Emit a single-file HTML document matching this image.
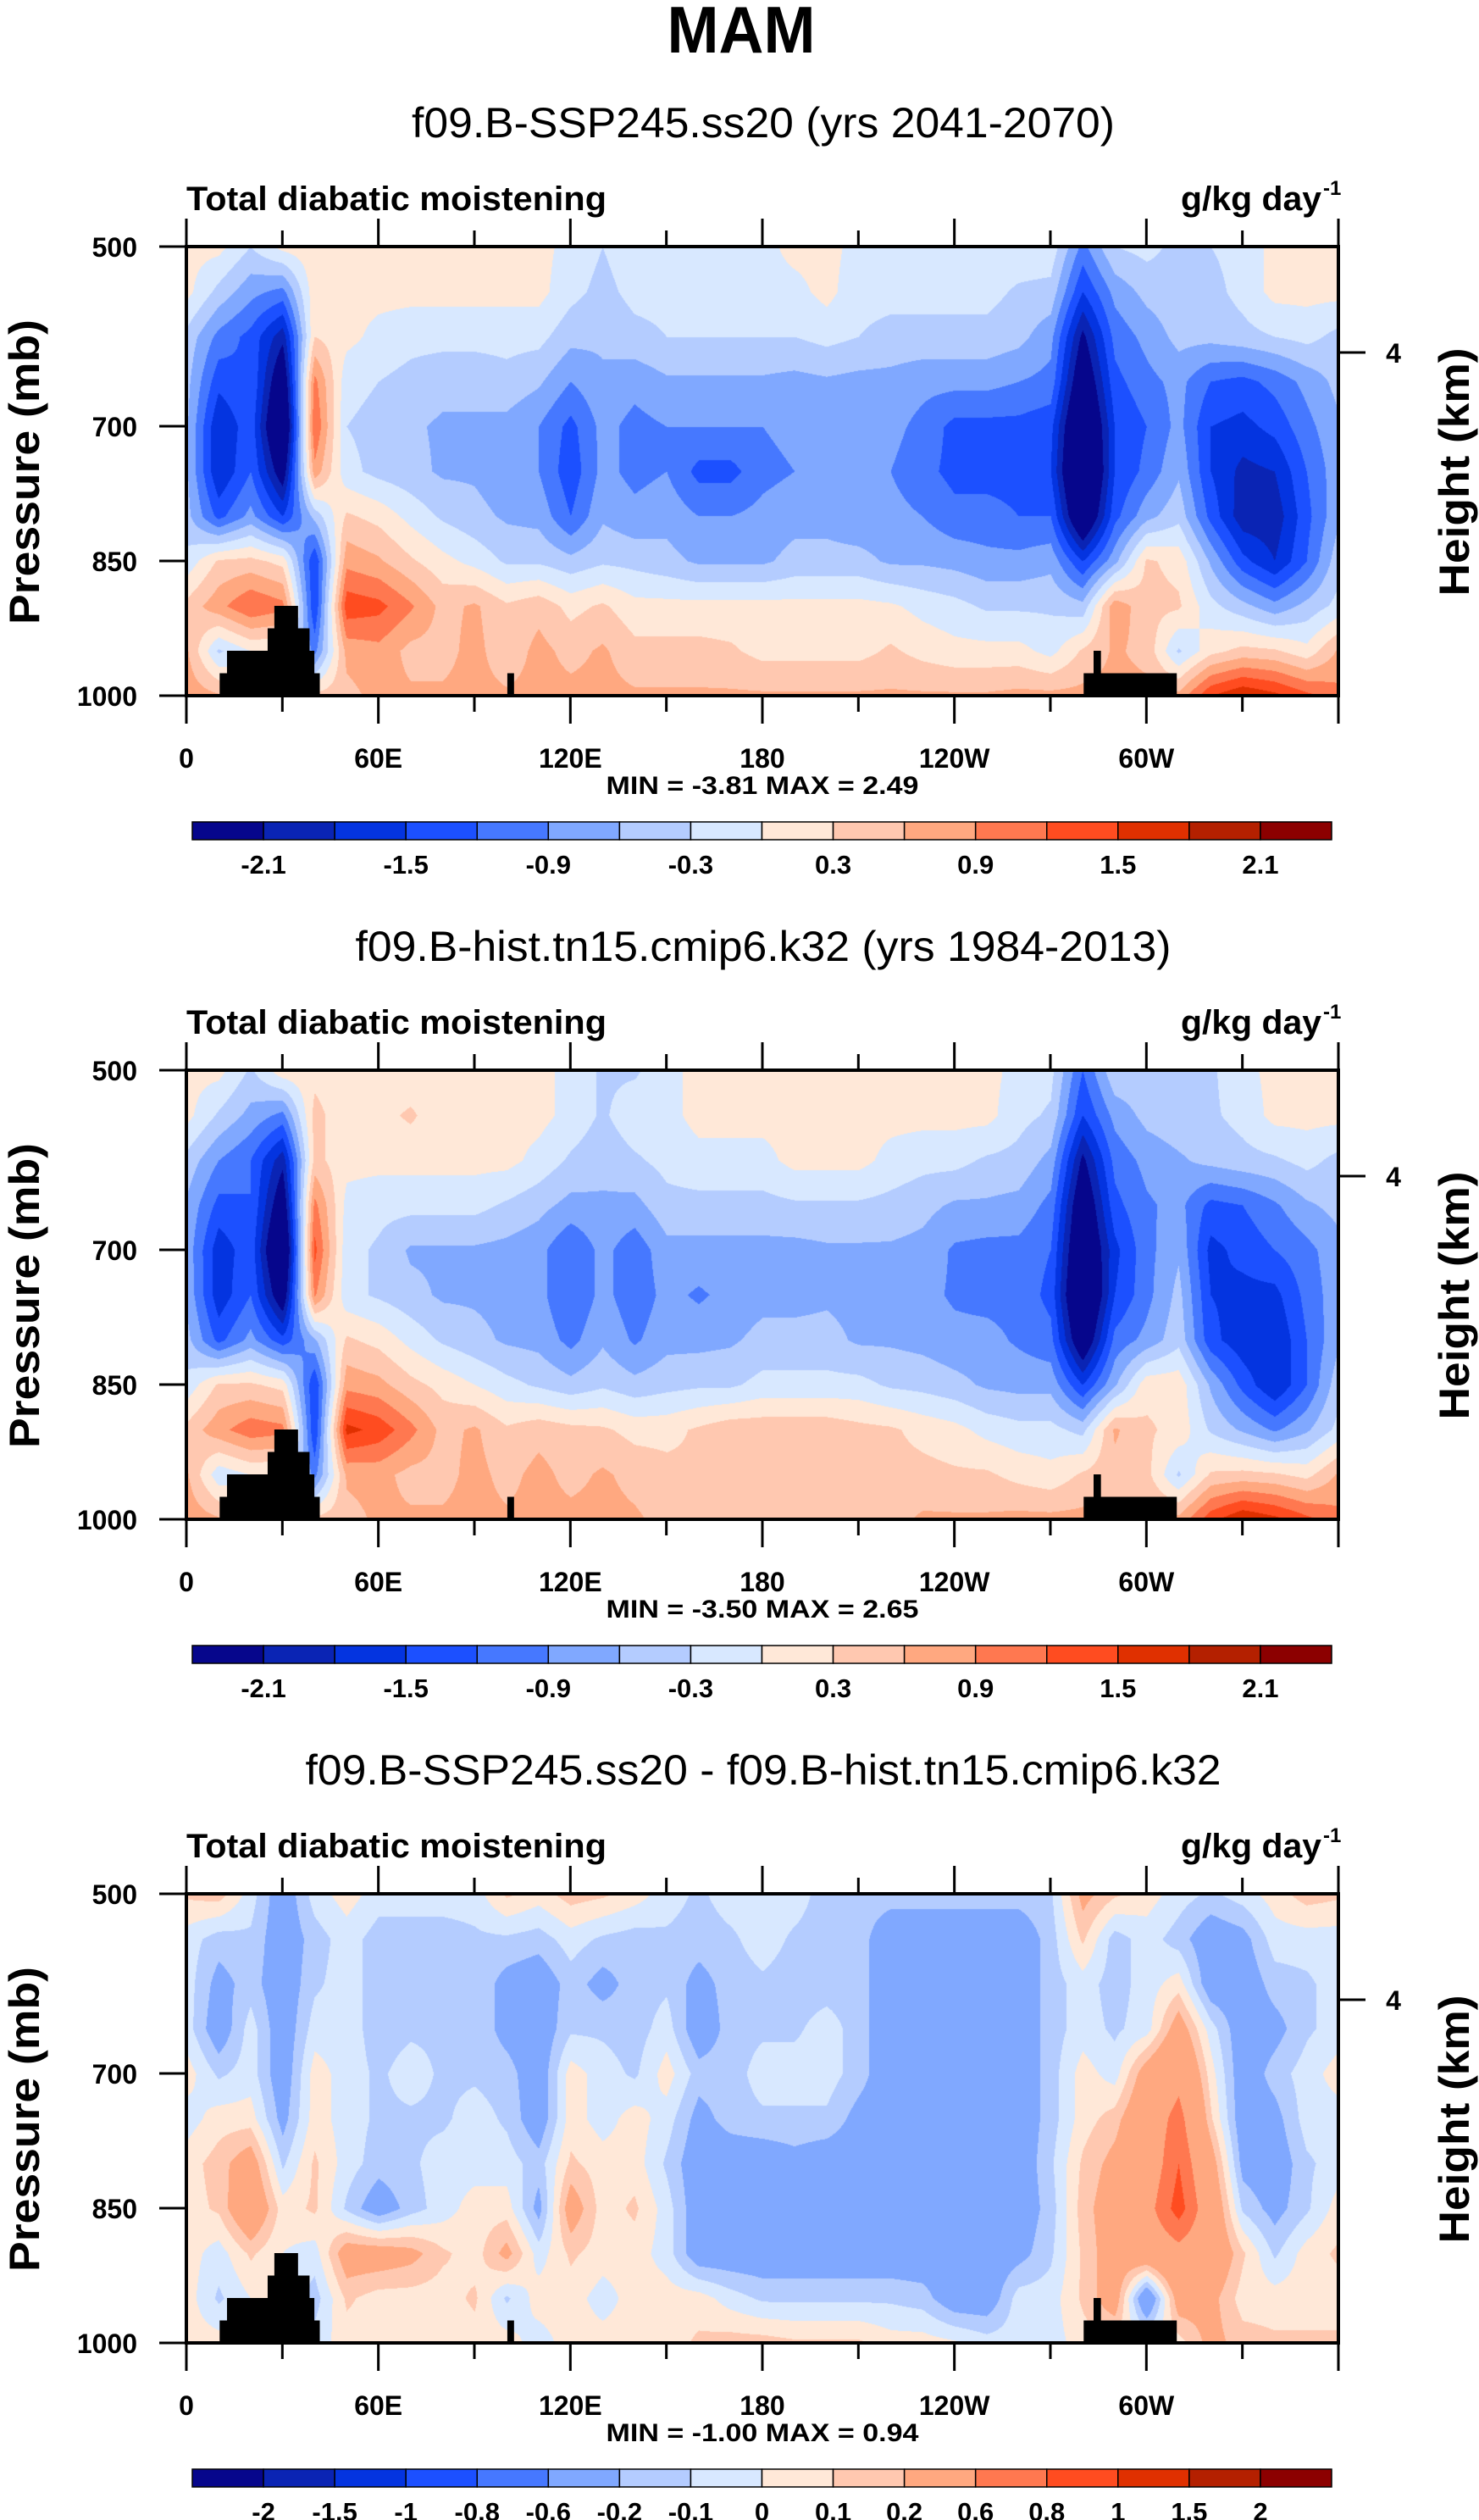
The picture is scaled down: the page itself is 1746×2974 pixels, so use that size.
<!DOCTYPE html>
<html><head><meta charset="utf-8">
<style>
html,body{margin:0;padding:0;background:#fff;}
#wrap{position:relative;width:1746px;height:2974px;overflow:hidden;}
canvas{position:absolute;}
svg{position:absolute;left:0;top:0;}
text{font-family:"Liberation Sans",sans-serif;fill:#000;}
</style></head>
<body>
<div id="wrap">
<canvas id="c0" width="1360" height="530" style="left:220px;top:291px"></canvas>
<canvas id="c1" width="1360" height="530" style="left:220px;top:1263px"></canvas>
<canvas id="c2" width="1360" height="530" style="left:220px;top:2235px"></canvas>
<svg id="ov" width="1746" height="2974" xmlns="http://www.w3.org/2000/svg">
<text x="875" y="62" font-size="78" font-weight="bold" text-anchor="middle" textLength="175" lengthAdjust="spacingAndGlyphs">MAM</text>
</svg>
</div>
<script>
// ---- data ----
const lons = [0,10,20,30,40,50,60,70,80,90,100,110,120,130,140,150,160,170,180,190,200,210,220,230,240,250,260,270,280,290,300,310,320,330,340,350,360];
const levels = [500,550,600,650,700,750,800,850,900,950,1000];
const colors = ["#06068c","#0a24b4","#0434e0","#1c50ff","#4678ff","#80a8ff","#b4ccff","#d8e8ff","#ffe8d8","#ffc8b0","#ffa880","#ff7850","#ff4c20","#e03000","#b42000","#8c0000"];
const bounds12 = [-2.1,-1.8,-1.5,-1.2,-0.9,-0.6,-0.3,0,0.3,0.6,0.9,1.2,1.5,1.8,2.1];
const labels12 = ["-2.1","","-1.5","","-0.9","","-0.3","","0.3","","0.9","","1.5","","2.1"];
const bounds3 = [-2,-1.5,-1,-0.8,-0.6,-0.2,-0.1,0,0.1,0.2,0.6,0.8,1,1.5,2];
const labels3 = ["-2","-1.5","-1","-0.8","-0.6","-0.2","-0.1","0","0.1","0.2","0.6","0.8","1","1.5","2"];
const land = [[10.4,41.7,975],[12.7,40,950],[25.4,38.5,925],[27.5,34.9,900],[100.3,102.4,975],[280.4,309.5,975],[283.5,285.8,950]];
const xTicks = [0,60,120,180,240,300];
const xTickLabels = ["0","60E","120E","180","120W","60W"];
const yTicks = [500,700,850,1000];
const titles = ["f09.B-SSP245.ss20 (yrs 2041-2070)","f09.B-hist.tn15.cmip6.k32 (yrs 1984-2013)","f09.B-SSP245.ss20 - f09.B-hist.tn15.cmip6.k32"];
const minmax = ["MIN = -3.81  MAX =  2.49","MIN = -3.50  MAX =  2.65","MIN = -1.00  MAX =  0.94"];

const field0 = [
[0.1,0.1,-0.3,0.1,0.2,0.1,0.1,0.1,0.1,0.1,0.1,0.1,-0.1,-0.3,-0.1,-0.1,-0.1,-0.1,-0.1,0.1,0.1,-0.1,-0.1,-0.1,-0.1,-0.1,-0.1,-0.1,-1.0,-0.3,-0.2,-0.4,-0.3,-0.2,0.1,0.1,0.1],
[0.1,-0.4,-0.8,-1.0,0.2,0.1,0.1,0.1,0.1,0.1,0.1,0.1,-0.2,-0.4,-0.2,-0.2,-0.2,-0.2,-0.1,-0.1,0.1,-0.2,-0.2,-0.2,-0.2,-0.2,-0.35,-0.4,-1.5,-0.8,-0.5,-0.4,-0.4,-0.2,0.1,0.1,0.1],
[-0.4,-1.0,-1.3,-2.0,0.3,0.1,-0.1,-0.2,-0.2,-0.2,-0.2,-0.2,-0.5,-0.55,-0.4,-0.3,-0.3,-0.3,-0.3,-0.3,-0.2,-0.3,-0.4,-0.4,-0.4,-0.4,-0.5,-0.8,-2.2,-1.1,-0.8,-0.5,-0.5,-0.4,-0.3,-0.2,-0.4],
[-0.5,-1.4,-1.2,-2.6,1.0,-0.2,-0.3,-0.4,-0.5,-0.5,-0.4,-0.55,-0.9,-0.65,-0.8,-0.65,-0.65,-0.65,-0.65,-0.7,-0.65,-0.7,-0.7,-0.8,-0.8,-0.8,-0.9,-1.0,-2.6,-1.3,-1.0,-0.8,-1.2,-1.3,-1.1,-0.8,-0.5],
[-0.55,-1.8,-1.3,-3.0,1.2,-0.3,-0.4,-0.55,-0.65,-0.65,-0.7,-0.9,-1.3,-0.8,-1.0,-0.9,-0.9,-0.9,-0.9,-0.8,-0.8,-0.8,-0.8,-1.0,-1.3,-1.3,-1.3,-1.4,-3.0,-1.5,-1.2,-0.8,-1.5,-1.6,-1.4,-1.0,-0.65],
[-0.55,-1.8,-1.2,-2.4,0.8,-0.2,-0.4,-0.5,-0.65,-0.65,-0.8,-0.9,-1.4,-0.8,-1.0,-0.9,-1.3,-1.3,-1.0,-0.9,-0.8,-0.8,-0.9,-1.1,-1.3,-1.3,-1.3,-1.5,-3.2,-1.5,-1.1,-0.65,-1.5,-1.9,-1.8,-1.2,-0.7],
[-0.5,-1.3,-0.8,-1.5,-0.5,0.35,0.2,-0.1,-0.35,-0.5,-0.65,-0.7,-1.2,-0.65,-0.8,-0.7,-0.9,-0.9,-0.8,-0.7,-0.7,-0.8,-0.8,-0.9,-1.1,-1.1,-1.2,-1.2,-2.8,-1.3,-0.7,-0.4,-1.3,-2.0,-2.0,-1.3,-0.65],
[-0.2,0.35,0.4,0.2,-1.5,0.8,0.65,0.35,0.1,-0.1,-0.35,-0.35,-0.5,-0.35,-0.4,-0.5,-0.65,-0.65,-0.65,-0.5,-0.5,-0.5,-0.65,-0.65,-0.7,-0.8,-0.8,-0.7,-1.5,-0.7,0.35,0.2,-0.65,-1.4,-1.8,-1.2,-0.4],
[0.4,0.8,1.2,1.0,-1.5,1.4,1.3,0.95,0.5,0.65,0.35,0.5,0.2,0.35,0.1,0.1,0.1,0.1,0.1,0.1,0.1,0.1,0.05,-0.1,-0.2,-0.35,-0.35,-0.35,-0.5,0.8,0.4,0.35,-0.2,-0.5,-0.8,-0.5,-0.2],
[0.65,-0.35,0.0,0.0,-1.0,0.7,0.8,0.5,0.5,0.7,0.4,0.7,0.5,0.65,0.4,0.4,0.4,0.35,0.2,0.2,0.2,0.2,0.35,0.2,0.1,0.1,0.1,-0.1,0.35,0.65,0.5,-0.35,0.2,0.4,0.35,0.1,0.65],
[0.8,0.65,0.0,0.0,0.4,0.5,0.7,0.65,0.65,0.7,0.65,0.7,0.7,0.7,0.65,0.65,0.65,0.65,0.65,0.65,0.65,0.65,0.65,0.65,0.65,0.65,0.7,0.7,0.7,0.7,0.7,0.7,1.5,1.8,1.6,1.3,1.0]
];
const field1 = [
[0.1,0.1,-0.35,0.2,0.2,0.1,0.1,0.1,0.1,0.1,0.1,0.1,-0.1,-0.35,-0.35,-0.1,0.1,0.1,0.1,0.1,0.1,0.1,0.1,0.1,0.1,0.1,-0.1,-0.2,-1.2,-0.35,-0.4,-0.4,-0.35,-0.1,0.1,0.1,0.1],
[0.1,-0.35,-0.7,-1.0,0.4,0.1,0.2,0.35,0.1,0.1,0.1,0.1,-0.1,-0.35,-0.1,-0.1,0.1,0.1,0.1,0.1,0.1,0.1,0.1,0.1,0.1,0.1,-0.2,-0.35,-1.5,-0.8,-0.5,-0.4,-0.35,-0.2,0.1,0.1,0.1],
[-0.4,-0.9,-1.2,-2.0,0.4,0.1,0.1,0.1,0.1,0.1,0.1,-0.1,-0.35,-0.5,-0.35,-0.2,-0.1,-0.1,-0.1,0.1,0.1,0.1,-0.1,-0.2,-0.2,-0.35,-0.4,-0.7,-2.2,-1.1,-0.8,-0.65,-0.5,-0.4,-0.35,-0.2,-0.4],
[-0.65,-1.3,-1.2,-2.5,1.0,-0.1,-0.2,-0.2,-0.2,-0.2,-0.35,-0.5,-0.7,-0.65,-0.7,-0.4,-0.4,-0.4,-0.4,-0.35,-0.35,-0.35,-0.4,-0.5,-0.65,-0.65,-0.7,-1.0,-2.6,-1.3,-0.95,-0.8,-1.3,-1.2,-0.95,-0.65,-0.5],
[-0.7,-1.7,-1.3,-3.0,1.3,-0.2,-0.35,-0.65,-0.65,-0.65,-0.7,-0.8,-1.2,-0.8,-1.1,-0.7,-0.7,-0.7,-0.7,-0.7,-0.65,-0.65,-0.65,-0.7,-0.95,-1.0,-1.0,-1.2,-2.8,-1.6,-1.0,-0.65,-1.6,-1.4,-1.2,-1.0,-0.7],
[-0.65,-1.7,-1.2,-2.5,0.95,-0.2,-0.35,-0.5,-0.65,-0.65,-0.7,-0.8,-1.2,-0.8,-1.1,-0.8,-0.95,-0.8,-0.7,-0.7,-0.65,-0.7,-0.8,-0.8,-0.95,-1.0,-1.0,-1.3,-3.0,-1.5,-1.0,-0.5,-1.5,-1.6,-1.6,-1.1,-0.7],
[-0.5,-1.3,-0.8,-1.4,-0.65,0.35,0.2,-0.1,-0.35,-0.5,-0.65,-0.7,-1.0,-0.65,-0.95,-0.7,-0.7,-0.65,-0.5,-0.5,-0.5,-0.65,-0.65,-0.7,-0.8,-0.8,-0.95,-1.1,-2.6,-1.1,-0.8,-0.4,-1.4,-1.7,-1.8,-1.2,-0.65],
[-0.2,0.35,0.35,0.2,-1.5,0.8,0.7,0.4,0.2,0.0,-0.2,-0.35,-0.5,-0.35,-0.5,-0.4,-0.35,-0.35,-0.2,-0.2,-0.2,-0.2,-0.35,-0.4,-0.5,-0.65,-0.7,-0.7,-1.5,-0.65,0.2,0.2,-0.65,-1.3,-1.8,-1.2,-0.4],
[0.4,0.8,1.1,1.0,-1.5,1.6,1.4,1.0,0.5,0.65,0.35,0.5,0.4,0.35,0.2,0.2,0.35,0.5,0.5,0.5,0.5,0.4,0.35,0.2,0.1,-0.1,-0.2,-0.2,-0.4,0.65,0.35,0.2,-0.35,-0.65,-0.95,-0.65,-0.2],
[0.65,-0.2,0.0,0.0,-1.0,0.65,0.7,0.5,0.5,0.7,0.5,0.7,0.5,0.65,0.5,0.4,0.35,0.35,0.35,0.35,0.35,0.35,0.4,0.4,0.35,0.35,0.2,0.1,0.35,0.5,0.4,-0.35,0.35,0.4,0.35,0.2,0.65],
[0.8,0.65,0.0,0.0,0.4,0.5,0.65,0.65,0.65,0.7,0.65,0.7,0.7,0.7,0.65,0.5,0.5,0.5,0.5,0.5,0.5,0.5,0.5,0.65,0.65,0.65,0.7,0.7,0.7,0.7,0.7,0.7,1.4,1.8,1.6,1.3,1.0]
];
const field2 = [
[0.12,0.15,-0.05,-0.3,-0.05,0.05,-0.05,-0.05,-0.05,-0.05,0.12,0.05,0.15,0.12,0.05,-0.05,-0.12,-0.05,-0.05,-0.05,-0.15,-0.15,-0.15,-0.15,-0.15,-0.15,-0.15,-0.12,0.25,0.12,0.05,-0.05,-0.12,-0.05,0.05,0.15,0.12],
[-0.05,-0.15,-0.12,-0.3,-0.15,-0.05,-0.15,-0.15,-0.15,-0.12,-0.12,-0.15,-0.05,-0.12,-0.15,-0.12,-0.15,-0.12,-0.05,-0.12,-0.15,-0.15,-0.3,-0.3,-0.3,-0.3,-0.3,-0.15,0.12,-0.15,-0.05,-0.15,-0.3,-0.25,-0.05,-0.05,-0.05],
[-0.05,-0.25,-0.15,-0.3,-0.12,-0.05,-0.15,-0.15,-0.12,-0.12,-0.25,-0.3,-0.15,-0.25,-0.15,-0.12,-0.25,-0.15,-0.12,-0.15,-0.15,-0.15,-0.3,-0.3,-0.3,-0.3,-0.3,-0.15,-0.05,-0.15,-0.05,0.05,-0.3,-0.3,-0.15,-0.12,-0.05],
[-0.05,-0.3,-0.05,-0.3,-0.05,-0.05,-0.15,-0.12,-0.12,-0.12,-0.25,-0.3,-0.12,-0.12,-0.15,-0.05,-0.3,-0.15,-0.12,-0.12,-0.05,-0.15,-0.3,-0.3,-0.3,-0.3,-0.3,-0.15,-0.05,-0.12,-0.05,0.3,-0.05,-0.3,-0.25,-0.12,-0.05],
[0.05,-0.12,-0.05,-0.3,0.05,-0.05,-0.12,-0.05,-0.12,-0.12,-0.15,-0.3,0.05,-0.05,-0.12,0.05,-0.15,-0.15,-0.05,-0.05,-0.05,-0.15,-0.3,-0.3,-0.3,-0.3,-0.3,-0.15,0.05,-0.05,0.3,0.5,0.05,-0.3,-0.15,-0.05,0.05],
[-0.05,0.05,0.05,-0.25,0.05,-0.05,-0.12,-0.12,-0.12,-0.05,-0.12,-0.3,0.05,-0.05,0.05,-0.05,-0.25,-0.15,-0.12,-0.12,-0.12,-0.25,-0.3,-0.3,-0.3,-0.3,-0.3,-0.15,0.05,0.15,0.4,0.7,0.12,-0.3,-0.25,-0.05,-0.05],
[0.05,0.15,0.3,-0.12,0.12,-0.05,-0.15,-0.12,-0.05,-0.05,-0.05,-0.15,0.12,0.05,0.05,-0.12,-0.3,-0.3,-0.3,-0.25,-0.3,-0.3,-0.3,-0.3,-0.3,-0.3,-0.3,-0.12,0.12,0.25,0.4,0.8,0.3,-0.25,-0.3,-0.12,-0.05],
[0.05,0.12,0.4,0.05,0.12,-0.12,-0.3,-0.15,-0.05,0.05,0.05,-0.25,0.3,0.05,0.12,-0.05,-0.3,-0.3,-0.3,-0.3,-0.3,-0.3,-0.3,-0.3,-0.3,-0.3,-0.3,-0.15,0.15,0.3,0.5,0.9,0.4,-0.12,-0.25,-0.12,0.05],
[0.05,-0.05,0.12,0.0,-0.05,0.3,0.3,0.25,0.12,0.05,0.25,-0.05,0.12,0.05,0.05,-0.05,-0.3,-0.3,-0.3,-0.3,-0.3,-0.3,-0.3,-0.3,-0.3,-0.3,-0.25,-0.12,0.12,0.3,0.4,0.5,0.4,0.12,-0.12,0.05,0.12],
[0.05,-0.12,0.0,0.0,-0.15,0.12,0.05,0.05,0.05,0.12,-0.12,0.05,0.05,-0.05,0.05,0.05,0.05,-0.05,-0.12,-0.12,-0.12,-0.12,-0.12,-0.15,-0.3,-0.3,-0.05,-0.05,0.12,0.3,-0.4,0.3,0.25,0.05,0.05,0.05,0.05],
[0.05,0.05,0.0,0.0,-0.05,0.05,0.05,0.05,0.05,0.05,0.05,-0.05,0.05,0.05,0.05,0.05,0.12,0.15,0.15,0.12,0.12,0.12,0.05,0.05,0.02,-0.05,-0.05,-0.05,0.05,0.05,0.05,0.05,0.25,0.15,0.12,0.12,0.12]
];
const fields = [field0, field1, field2];
const panelBounds = [bounds12, bounds12, bounds3];
const panelLabels = [labels12, labels12, labels3];

// ---- layout ----
const PX = 220, PW = 1360, PH = 530, TOP0 = 291, DY = 972;
const xScale = lon => PX + lon / 360 * PW;
const yScale = (p, top) => top + (p - 500) / 500 * PH;

function sample(f, lon, p) {
  let i = 0; while (i < lons.length - 2 && lon > lons[i + 1]) i++;
  let j = 0; while (j < levels.length - 2 && p > levels[j + 1]) j++;
  const tx = (lon - lons[i]) / (lons[i + 1] - lons[i]);
  const ty = (p - levels[j]) / (levels[j + 1] - levels[j]);
  const a = f[j][i], b = f[j][i + 1], c = f[j + 1][i], d = f[j + 1][i + 1];
  return (a * (1 - tx) + b * tx) * (1 - ty) + (c * (1 - tx) + d * tx) * ty;
}
function hex(c){return [parseInt(c.substr(1,2),16),parseInt(c.substr(3,2),16),parseInt(c.substr(5,2),16)];}
const rgb = colors.map(hex);

for (let k = 0; k < 3; k++) {
  const cv = document.getElementById('c' + k);
  const ctx = cv.getContext('2d');
  const img = ctx.createImageData(PW, PH);
  const bnd = panelBounds[k], f = fields[k];
  for (let y = 0; y < PH; y++) {
    const p = 500 + y / PH * 500;
    for (let x = 0; x < PW; x++) {
      const v = sample(f, x / PW * 360, p) + 1e-7;
      let ci = 0; while (ci < bnd.length && v >= bnd[ci]) ci++;
      const c = rgb[ci], o = (y * PW + x) * 4;
      img.data[o] = c[0]; img.data[o + 1] = c[1]; img.data[o + 2] = c[2]; img.data[o + 3] = 255;
    }
  }
  ctx.putImageData(img, 0, 0);
}

const NS = "http://www.w3.org/2000/svg";
const svg = document.getElementById('ov');
function mk(tag, attrs, parent) {
  const e = document.createElementNS(NS, tag);
  for (const a in attrs) e.setAttribute(a, attrs[a]);
  (parent || svg).appendChild(e);
  return e;
}

for (let k = 0; k < 3; k++) {
  const top = TOP0 + k * DY, bot = top + PH, off = k * DY;
  const g = mk('g', {});
  
  

  land.forEach(l => {
    const r = mk('rect', {x: xScale(l[0]), y: yScale(l[2], top), width: xScale(l[1]) - xScale(l[0]), height: yScale(1000, top) - yScale(l[2], top), fill: '#000'}, g);
    
    
  });

  const tw = [830, 963, 1081][k];
  const st = mk('text', {x: 901, y: 162 + off, 'font-size': 50, 'text-anchor': 'middle', textLength: tw, lengthAdjust: 'spacingAndGlyphs'}, g);
  st.textContent = titles[k];
  
  

  const lt = mk('text', {x: 220, y: 248 + off, 'font-size': 40, 'font-weight': 'bold', textLength: 496, lengthAdjust: 'spacingAndGlyphs'}, g);
  lt.textContent = 'Total diabatic moistening';
  
  

  const ut = mk('text', {x: 1394, y: 248 + off, 'font-size': 40, 'font-weight': 'bold', textLength: 166, lengthAdjust: 'spacingAndGlyphs'}, g);
  ut.textContent = 'g/kg day';
  
  
  const us = mk('text', {x: 1562, y: 230 + off, 'font-size': 24, 'font-weight': 'bold'}, g);
  us.textContent = '-1';
  
  

  const fr = mk('rect', {x: PX, y: top, width: PW, height: PH, fill: 'none', stroke: '#000', 'stroke-width': 4}, g);
  
  

  for (let lon = 0; lon <= 360; lon += 30) {
    const major = lon % 60 === 0, x = xScale(lon);
    const len = major ? 33 : 19;
    const t1 = mk('line', {x1: x, x2: x, y1: top, y2: top - len, stroke: '#000', 'stroke-width': 3}, g);
    
    
    const t2 = mk('line', {x1: x, x2: x, y1: bot, y2: bot + len, stroke: '#000', 'stroke-width': 3}, g);
    
    
  }
  xTicks.forEach((lon, i) => {
    const t = mk('text', {x: xScale(lon), y: 906 + off, 'font-size': 32, 'font-weight': 'bold', 'text-anchor': 'middle'}, g);
    t.textContent = xTickLabels[i];
    
    
  });
  yTicks.forEach(p => {
    const y = yScale(p, top);
    const l = mk('line', {x1: 188, x2: PX, y1: y, y2: y, stroke: '#000', 'stroke-width': 3}, g);
    
    
    const t = mk('text', {x: 162, y: y + 12, 'font-size': 32, 'font-weight': 'bold', 'text-anchor': 'end'}, g);
    t.textContent = String(p);
    
    
  });
  const hy = 416 + off;
  const hl = mk('line', {x1: PX + PW, x2: 1612, y1: hy, y2: hy, stroke: '#000', 'stroke-width': 3}, g);
  
  
  const ht = mk('text', {x: 1645, y: hy + 12, 'font-size': 32, 'font-weight': 'bold', 'text-anchor': 'middle'}, g);
  ht.textContent = '4';
  
  

  const yt = mk('text', {x: 0, y: 0, 'font-size': 50, 'font-weight': 'bold', 'text-anchor': 'middle', transform: `translate(46,${557 + off}) rotate(-90)`, textLength: 360, lengthAdjust: 'spacingAndGlyphs'}, g);
  yt.textContent = 'Pressure (mb)';
  
  
  const rt = mk('text', {x: 0, y: 0, 'font-size': 50, 'font-weight': 'bold', 'text-anchor': 'middle', transform: `translate(1734,${557 + off}) rotate(-90)`, textLength: 293, lengthAdjust: 'spacingAndGlyphs'}, g);
  rt.textContent = 'Height (km)';
  
  

  const mm = mk('text', {x: 900, y: 937 + off, 'font-size': 30, 'font-weight': 'bold', 'text-anchor': 'middle', textLength: 369, lengthAdjust: 'spacingAndGlyphs', 'xml:space': 'preserve'}, g);
  mm.textContent = minmax[k];
  
  

  const cbX = 227, cbW = 1345, cbY = 970 + off, cbH = 21, bw = cbW / colors.length;
  colors.forEach((c, i) => {
    const r = mk('rect', {x: cbX + i * bw, y: cbY, width: bw, height: cbH, fill: c, stroke: '#000', 'stroke-width': 1.5}, g);
    
    
  });
  const lab = panelLabels[k];
  lab.forEach((s, i) => {
    if (!s) return;
    const x = cbX + (i + 1) * bw;
    const t = mk('text', {x: x, y: 1031 + off, 'font-size': 31, 'font-weight': 'bold', 'text-anchor': 'middle'}, g);
    t.textContent = s;
    
    
  });
}
</script>
</body></html>
